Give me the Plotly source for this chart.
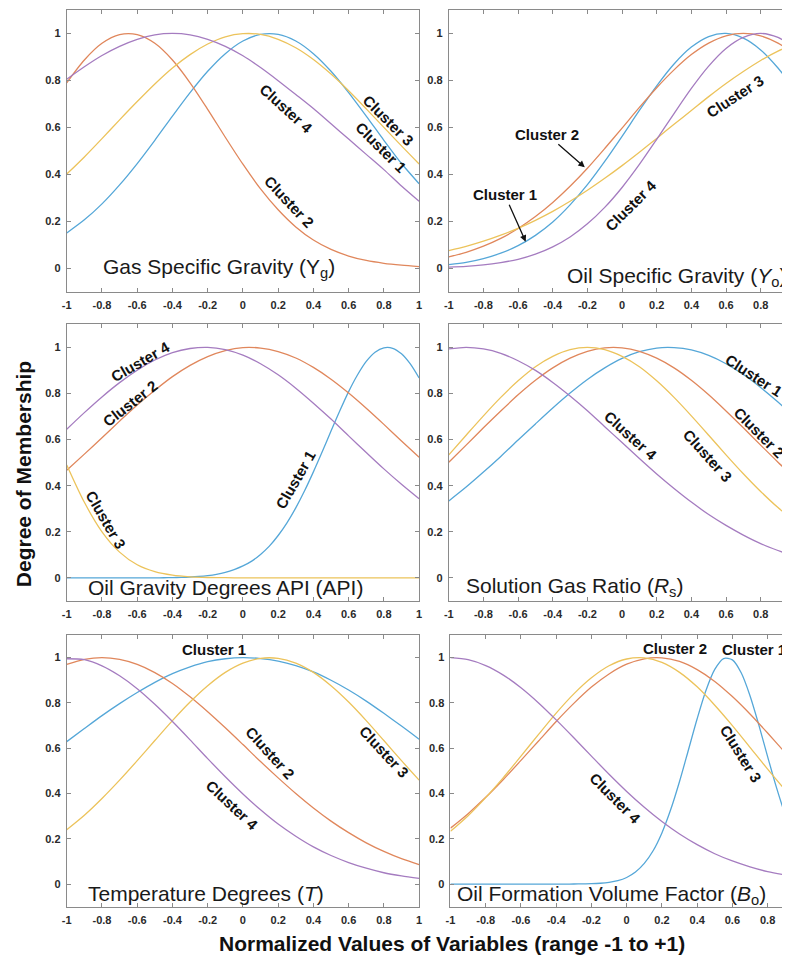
import plotly.graph_objects as go
from plotly.subplots import make_subplots

# ---------------- data ----------------
X = [-1.0, -0.9, -0.8, -0.7, -0.6, -0.5, -0.4, -0.3, -0.2, -0.1, 0.0,
     0.1, 0.2, 0.3, 0.4, 0.5, 0.6, 0.7, 0.8, 0.9, 1.0]
X_FINE = [-1.0, -0.95, -0.9, -0.85, -0.8, -0.75, -0.7, -0.65, -0.6, -0.55, -0.5,
          -0.45, -0.4, -0.35, -0.3, -0.25, -0.2, -0.15, -0.1, -0.05, 0.0,
          0.05, 0.1, 0.15, 0.2, 0.25, 0.3, 0.35, 0.4, 0.45, 0.5,
          0.55, 0.6, 0.65, 0.7, 0.75, 0.8, 0.85, 0.9, 0.95, 1.0]

CLUSTERS = ["Cluster 1", "Cluster 2", "Cluster 3", "Cluster 4"]

# Gas specific gravity
gas_c1 = [0.150, 0.206, 0.274, 0.355, 0.446, 0.545, 0.648, 0.748, 0.839, 0.914, 0.968,
          0.996, 0.996, 0.968, 0.914, 0.839, 0.748, 0.648, 0.545, 0.446, 0.360]
gas_c2 = [0.790, 0.887, 0.958, 0.995, 0.995, 0.958, 0.887, 0.790, 0.677, 0.558, 0.443,
          0.338, 0.249, 0.176, 0.120, 0.080, 0.052, 0.033, 0.021, 0.013, 0.007]
gas_c3 = [0.401, 0.474, 0.552, 0.632, 0.710, 0.785, 0.853, 0.910, 0.955, 0.986, 0.999,
          0.996, 0.975, 0.939, 0.889, 0.827, 0.756, 0.679, 0.600, 0.521, 0.444]
gas_c4 = [0.805, 0.858, 0.906, 0.945, 0.975, 0.994, 1.000, 0.994, 0.975, 0.945, 0.905,
          0.855, 0.799, 0.740, 0.680, 0.615, 0.550, 0.485, 0.420, 0.350, 0.285]

# Oil specific gravity
osg_c1 = [0.015, 0.025, 0.041, 0.064, 0.096, 0.140, 0.197, 0.270, 0.356, 0.455, 0.562,
          0.672, 0.777, 0.870, 0.942, 0.987, 1.000, 0.980, 0.930, 0.853, 0.757]
osg_c2 = [0.048, 0.068, 0.094, 0.127, 0.169, 0.220, 0.280, 0.349, 0.426, 0.510, 0.597,
          0.685, 0.769, 0.845, 0.910, 0.959, 0.990, 1.000, 0.990, 0.959, 0.910]
osg_c3 = [0.075, 0.093, 0.115, 0.141, 0.170, 0.204, 0.242, 0.285, 0.332, 0.383, 0.437,
          0.494, 0.553, 0.613, 0.672, 0.731, 0.787, 0.838, 0.885, 0.925, 0.957]
osg_c4 = [0.005, 0.008, 0.014, 0.024, 0.038, 0.060, 0.091, 0.133, 0.189, 0.259, 0.344,
          0.442, 0.549, 0.659, 0.766, 0.861, 0.936, 0.983, 1.000, 0.983, 0.936]

# Oil gravity degrees API (cluster 1 read on the finer grid)
api_c1 = [0.000, 0.000, 0.000, 0.000, 0.000, 0.000, 0.000, 0.0001, 0.0001, 0.0003, 0.0005,
          0.0008, 0.0014, 0.0024, 0.004, 0.0065, 0.0102, 0.0158, 0.024, 0.036, 0.052,
          0.073, 0.102, 0.138, 0.184, 0.239, 0.304, 0.378, 0.460, 0.547, 0.637,
          0.725, 0.808, 0.880, 0.939, 0.979, 0.998, 0.996, 0.972, 0.928, 0.867]
api_c2 = [0.467, 0.537, 0.608, 0.680, 0.750, 0.814, 0.873, 0.922, 0.960, 0.986, 0.999,
          0.997, 0.982, 0.954, 0.913, 0.862, 0.802, 0.736, 0.666, 0.594, 0.523]
api_c3 = [0.490, 0.328, 0.200, 0.112, 0.057, 0.027, 0.012, 0.005, 0.002, 0.001, 0.000,
          0.000, 0.000, 0.000, 0.000, 0.000, 0.000, 0.000, 0.000, 0.000, 0.000]
api_c4 = [0.645, 0.717, 0.785, 0.847, 0.901, 0.945, 0.977, 0.995, 1.000, 0.990, 0.966,
          0.929, 0.881, 0.823, 0.758, 0.689, 0.616, 0.544, 0.473, 0.406, 0.343]

# Solution gas ratio
rs_c1 = [0.334, 0.394, 0.459, 0.527, 0.598, 0.668, 0.737, 0.802, 0.861, 0.911, 0.952,
         0.981, 0.997, 0.999, 0.989, 0.965, 0.929, 0.882, 0.826, 0.763, 0.696]
rs_c2 = [0.502, 0.576, 0.651, 0.724, 0.794, 0.857, 0.911, 0.953, 0.983, 0.998, 0.998,
         0.983, 0.953, 0.911, 0.857, 0.794, 0.724, 0.651, 0.576, 0.502, 0.431]
rs_c3 = [0.534, 0.619, 0.703, 0.783, 0.855, 0.916, 0.961, 0.990, 1.000, 0.990, 0.961,
         0.916, 0.855, 0.783, 0.703, 0.619, 0.534, 0.452, 0.375, 0.305, 0.244]
rs_c4 = [0.993, 1.000, 0.993, 0.974, 0.942, 0.900, 0.848, 0.789, 0.725, 0.656, 0.587,
         0.518, 0.451, 0.388, 0.329, 0.275, 0.228, 0.186, 0.149, 0.119, 0.093]

# Temperature degrees
t_c1 = [0.629, 0.687, 0.744, 0.797, 0.846, 0.891, 0.929, 0.959, 0.982, 0.995, 1.000,
        0.996, 0.985, 0.965, 0.937, 0.900, 0.857, 0.808, 0.754, 0.698, 0.640]
t_c2 = [0.970, 0.992, 1.000, 0.992, 0.970, 0.934, 0.886, 0.827, 0.761, 0.690, 0.616,
        0.541, 0.469, 0.400, 0.336, 0.278, 0.227, 0.182, 0.144, 0.112, 0.086]
t_c3 = [0.240, 0.304, 0.378, 0.459, 0.545, 0.634, 0.722, 0.804, 0.876, 0.935, 0.976,
        0.997, 0.997, 0.976, 0.935, 0.876, 0.804, 0.722, 0.634, 0.545, 0.459]
t_c4 = [0.995, 0.991, 0.964, 0.920, 0.863, 0.794, 0.718, 0.637, 0.554, 0.474, 0.398,
        0.328, 0.265, 0.211, 0.164, 0.126, 0.095, 0.070, 0.050, 0.036, 0.025]

# Oil formation volume factor (cluster 1 read on the finer grid)
bo_c1 = [0.000, 0.000, 0.000, 0.000, 0.000, 0.000, 0.000, 0.000, 0.000, 0.000, 0.000,
         0.000, 0.000, 0.000, 0.0003, 0.0007, 0.0016, 0.0036, 0.0076, 0.015, 0.029,
         0.053, 0.091, 0.147, 0.226, 0.329, 0.453, 0.591, 0.730, 0.855, 0.948,
         0.996, 0.990, 0.933, 0.832, 0.703, 0.563, 0.427, 0.306, 0.208, 0.134]
bo_c2 = [0.247, 0.311, 0.383, 0.462, 0.546, 0.632, 0.718, 0.798, 0.870, 0.928, 0.971,
         0.995, 0.999, 0.983, 0.947, 0.895, 0.828, 0.751, 0.667, 0.580, 0.495]
bo_c3 = [0.233, 0.302, 0.382, 0.470, 0.565, 0.661, 0.755, 0.840, 0.911, 0.964, 0.994,
         0.999, 0.979, 0.935, 0.871, 0.790, 0.700, 0.604, 0.508, 0.416, 0.333]
bo_c4 = [1.000, 0.991, 0.965, 0.923, 0.867, 0.800, 0.725, 0.646, 0.565, 0.485, 0.409,
         0.339, 0.276, 0.221, 0.174, 0.134, 0.102, 0.076, 0.055, 0.040, 0.028]

X_TICKS = [-1, -0.8, -0.6, -0.4, -0.2, 0, 0.2, 0.4, 0.6, 0.8, 1]
X_TICK_TEXT = ["-1", "-0.8", "-0.6", "-0.4", "-0.2", "0", "0.2", "0.4", "0.6", "0.8", "1"]
Y_TICKS = [0, 0.2, 0.4, 0.6, 0.8, 1]
Y_TICK_TEXT = ["0", "0.2", "0.4", "0.6", "0.8", "1"]

PANEL_TITLES = [
    "Gas Specific Gravity (Y<sub>g</sub>)",
    "Oil Specific Gravity (<i>Y</i><sub>o</sub>)",
    "Oil Gravity Degrees API (API)",
    "Solution Gas Ratio (<i>R</i><sub>s</sub>)",
    "Temperature Degrees (<i>T</i>)",
    "Oil Formation Volume Factor (<i>B</i><sub>o</sub>)",
]

# ---------------- style ----------------
COLORS = ["#55a7d8", "#e0875c", "#ecc35b", "#a57cc0"]
FONT = "Arial, 'Liberation Sans', sans-serif"
OFF = 8                      # the page's body margin
W, H = 790 - OFF, 958 - OFF  # figure size so that the window is filled


def px_x(p):
    return (p - OFF) / W


def px_y(p):
    return 1 - (p - OFF) / H


panels = [
    ([X, X, X, X], [gas_c1, gas_c2, gas_c3, gas_c4]),
    ([X, X, X, X], [osg_c1, osg_c2, osg_c3, osg_c4]),
    ([X_FINE, X, X, X], [api_c1, api_c2, api_c3, api_c4]),
    ([X, X, X, X], [rs_c1, rs_c2, rs_c3, rs_c4]),
    ([X, X, X, X], [t_c1, t_c2, t_c3, t_c4]),
    ([X_FINE, X, X, X], [bo_c1, bo_c2, bo_c3, bo_c4]),
]

# window-pixel frames of each panel (left, right, top, bottom) and x-range shown
frames = [
    (62.3, 418.3, 10, 291.7, [-1, 1]),
    (448.3, 790, 10, 291.7, [-1, 0.952]),
    (62.3, 418.3, 324.3, 601, [-1, 1]),
    (448.3, 790, 324.3, 601, [-1, 0.952]),
    (62.3, 418.3, 635, 906.7, [-1, 1]),
    (450, 790, 635, 906.7, [-1, 0.91]),
]

fig = make_subplots(rows=3, cols=2)

for i, (xs, ys) in enumerate(panels):
    r, c = i // 2 + 1, i % 2 + 1
    for k in range(4):
        fig.add_trace(go.Scatter(x=xs[k], y=ys[k], mode="lines", name=CLUSTERS[k],
                                 line=dict(color=COLORS[k], width=1.3, shape="spline", smoothing=0.8),
                                 hoverinfo="skip", showlegend=False), row=r, col=c)

for i, (l, rgt, t, b, xr) in enumerate(frames):
    sfx = "" if i == 0 else str(i + 1)
    right_col = (i % 2 == 1)
    fig.layout["xaxis" + sfx].update(
        domain=[px_x(l), min(1.0, px_x(rgt))], range=xr, tickvals=X_TICKS, ticktext=X_TICK_TEXT,
        showline=True, linecolor="#8a8a8a", linewidth=1, mirror="ticks",
        ticks="inside", ticklen=4, tickcolor="#8a8a8a", showgrid=False, zeroline=False,
        tickfont=dict(family=FONT, size=11, color="#2a2a2a", weight="bold"),
        ticklabelstandoff=3, fixedrange=True)
    fig.layout["yaxis" + sfx].update(
        domain=[px_y(b), px_y(t)], range=[-0.1, 1.1], tickvals=Y_TICKS, ticktext=Y_TICK_TEXT,
        showline=True, linecolor="#8a8a8a", linewidth=1,
        mirror=(False if right_col else "ticks"),
        ticks="inside", ticklen=4, tickcolor="#8a8a8a", showgrid=False, zeroline=False,
        tickfont=dict(family=FONT, size=11, color="#2a2a2a", weight="bold"),
        ticklabelstandoff=3, fixedrange=True)

annotations = []

# panel titles (inside, bottom-left)
title_pos = [(0.0975, 0.084), (0.344, 0.053), (0.0545, 0.048),
             (0.046, 0.052), (0.0545, 0.049), (0.0127, 0.043)]
for i, txt in enumerate(PANEL_TITLES):
    sfx = "" if i == 0 else str(i + 1)
    annotations.append(dict(text=txt, xref="x" + sfx + " domain", yref="y" + sfx + " domain",
                            x=title_pos[i][0], y=title_pos[i][1], xanchor="left", yanchor="middle",
                            showarrow=False, font=dict(family=FONT, size=21, color="#1a1a1a")))

# cluster labels: (panel index, cluster index, x, y, angle)
labels = [
    (0, 3, 0.2455, 0.681, 42), (0, 2, 0.826, 0.628, 45), (0, 0, 0.785, 0.515, 45), (0, 1, 0.261, 0.283, 47),
    (1, 3, 0.048, 0.269, -45), (1, 2, 0.651, 0.731, -33),
    (2, 3, -0.582, 0.938, -30), (2, 1, -0.642, 0.757, -38), (2, 2, -0.779, 0.254, 60), (2, 0, 0.298, 0.428, -60),
    (3, 0, 0.762, 0.880, 33), (3, 1, 0.791, 0.630, 45), (3, 2, 0.495, 0.533, 48), (3, 3, 0.048, 0.616, 42),
    (4, 0, -0.166, 1.034, 0), (4, 1, 0.152, 0.580, 48), (4, 2, 0.800, 0.585, 47), (4, 3, -0.058, 0.349, 43),
    (5, 1, 0.274, 1.041, 0), (5, 0, 0.722, 1.038, 0), (5, 2, 0.648, 0.577, 58), (5, 3, -0.063, 0.379, 45),
]
for p, ci, x, y, ang in labels:
    sfx = "" if p == 0 else str(p + 1)
    annotations.append(dict(text="<b>" + CLUSTERS[ci] + "</b>", xref="x" + sfx, yref="y" + sfx,
                            x=x, y=y, textangle=ang, showarrow=False,
                            font=dict(family=FONT, size=15, color="#111111")))

# arrow labels in the oil specific gravity panel
for ci, hx, hy, ax, ay in [(1, -0.215, 0.43, -38, -33), (0, -0.556, 0.113, -21, -47)]:
    annotations.append(dict(text="<b>" + CLUSTERS[ci] + "</b>", xref="x2", yref="y2", x=hx, y=hy,
                            ax=ax, ay=ay, showarrow=True, arrowhead=2, arrowsize=1, arrowwidth=1.3,
                            arrowcolor="#111111", standoff=0,
                            font=dict(family=FONT, size=15, color="#111111")))

# shared axis titles
annotations.append(dict(text="<b>Degree of Membership</b>", xref="paper", yref="paper",
                        x=px_x(18.3), y=px_y(474), textangle=-90, showarrow=False,
                        xanchor="center", yanchor="middle",
                        font=dict(family=FONT, size=21, color="#111111")))
annotations.append(dict(text="<b>Normalized Values of Variables (range -1 to +1)</b>",
                        xref="paper", yref="paper", x=px_x(451.7), y=px_y(943.3),
                        showarrow=False, xanchor="center", yanchor="middle",
                        font=dict(family=FONT, size=21, color="#111111")))

fig.update_layout(width=W, height=H, margin=dict(l=0, r=0, t=0, b=0),
                  paper_bgcolor="white", plot_bgcolor="white", showlegend=False,
                  annotations=annotations)

fig.write_html("out.html")
